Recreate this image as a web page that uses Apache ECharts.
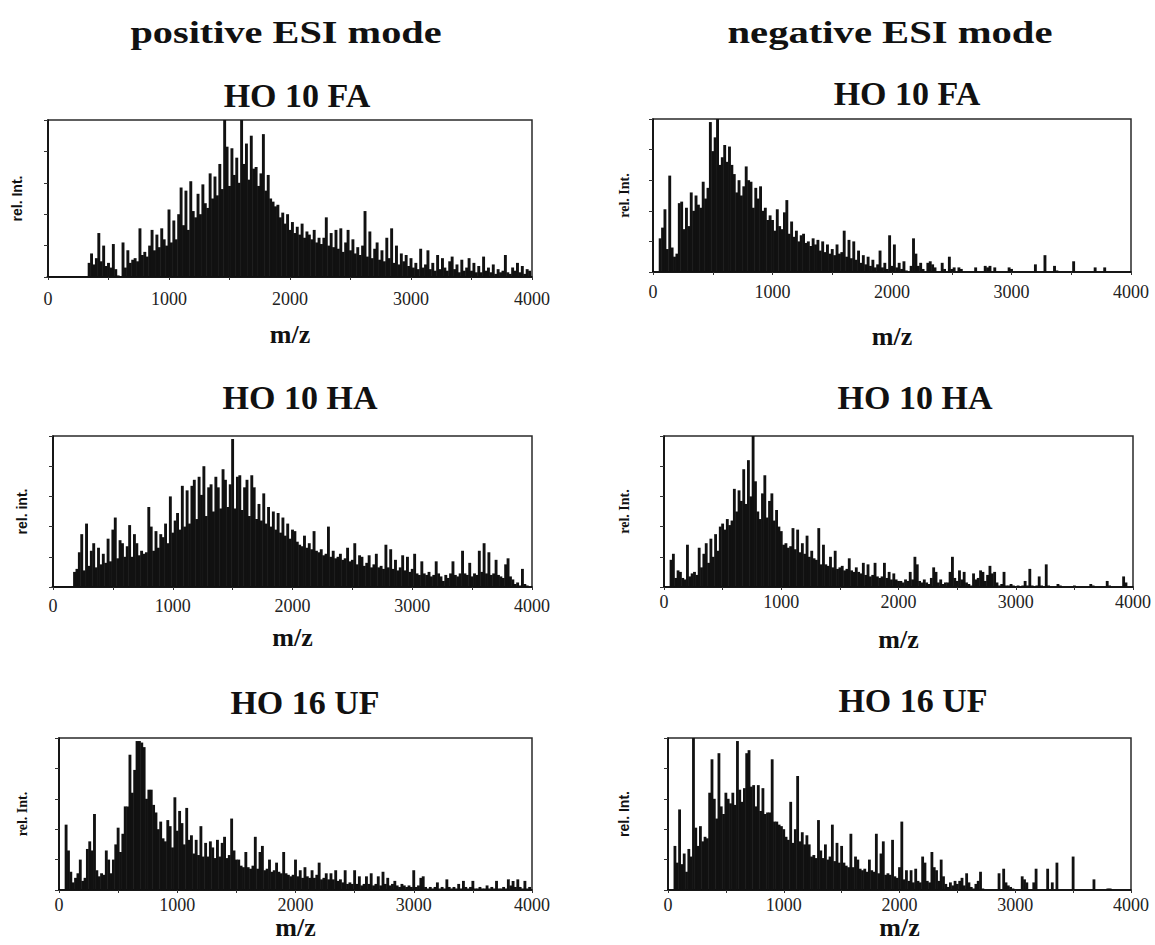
<!DOCTYPE html>
<html><head><meta charset="utf-8">
<script src="https://cdn.jsdelivr.net/npm/echarts@6/dist/echarts.min.js"></script>
<style>html,body{margin:0;padding:0;background:#fff}#c{width:1155px;height:945px}</style>
</head><body><div id="c"></div>
<script>
// m/z grid: one bin every MZ_STEP from 0 to 3980
const MZ_STEP = 20;
const xTicks = [0, 1000, 2000, 3000, 4000];
const modeTitles = ['positive ESI mode', 'negative ESI mode'];
const panelTitles = ['HO 10 FA', 'HO 10 FA', 'HO 10 HA', 'HO 10 HA', 'HO 16 UF', 'HO 16 UF'];
const yNames = ['rel. Int.', 'rel. Int.', 'rel. int.', 'rel. Int.', 'rel. Int.', 'rel. Int.'];
const xName = 'm/z';

// relative intensities (%) per 20 m/z bin
const posFA = [0.5,0.5,0.5,0.5,0.5,0.5,0.5,0.5,0.5,0.5,0.5,0.5,0.5,0.5,0.5,0.5,0.5,
 9,15,8,12,28,10,20,7,9,6,21,5,1,
 0.5,
 22,6,17,9,11,12,10,31,14,16,13,20,30,17,27,19,31,24,20,
 43,22,36,24,40,57,33,55,30,61,42,38,53,40,59,47,44,66,50,64,
 52,72,56,100,83,58,82,65,76,60,100,72,85,62,90,69,70,58,66,91,
 55,65,50,48,45,46,38,41,34,40,30,35,28,32,27,34,25,29,27,24,
 30,22,25,21,25,38,20,28,19,30,18,31,16,22,30,17,24,15,19,14,
 20,42,13,29,12,18,22,11,17,10,25,12,31,9,20,8,15,10,14,7,
 12,6,9,5,18,6,8,17,5,9,4,14,5,12,6,4,10,13,5,8,
 3,11,4,6,12,4,9,3,7,3,13,4,6,3,8,2,5,3,4,14,
 3,2,6,4,9,3,7,2,5,4];

const negFA = [0,0,0,
 22,29,41,15,63,16,10,
 12,45,46,28,42,30,
 52,40,50,44,42,59,48,55,
 98,79,88,100,70,75,83,72,
 82,70,64,52,60,50,56,
 69,60,59,42,55,48,56,40,
 42,34,37,34,27,41,30,28,39,
 47,25,33,23,27,20,24,25,19,20,17,22,18,21,
 14,20,13,18,12,15,11,18,12,13,27,10,21,9,20,8,14,6,11,5,
 10,4,8,3,5,14,3,6,2,24,4,18,3,6,2,7,1,0,4,22,
 12,4,6,2,0,6,7,5,3,0,0,6,2,0,10,2,3,0,3,2,
 0,0,0,0,0,3,0,0,0,4,3,4,0,3,0,0,0,0,0,3,
 2,0,0,0,0,0,0,0,0,0,5,0,0,0,11,0,0,0,4,1,
 0,0,0,0,0,0,7,0,0,0,0,0,0,0,0,3,0,0,0,3,
 0,0,0,0,0,0,0,0,0,0];

const posHA = [0.5,0.5,0.5,0.5,0.5,0.5,0.5,0.5,0.5,
 10,12,23,35,11,42,14,24,29,13,26,15,22,16,32,17,
 38,46,19,31,29,20,27,41,20,35,29,21,24,22,23,53,
 40,24,37,26,35,33,42,29,60,
 36,44,49,38,67,40,64,42,67,71,45,73,61,80,47,66,
 68,50,73,66,52,78,71,53,68,98,52,73,74,51,66,
 71,47,74,66,45,55,44,62,42,53,40,50,38,49,36,
 46,34,42,32,38,37,30,28,27,34,26,29,25,37,24,
 23,25,21,22,40,20,24,19,20,22,18,19,26,17,18,
 29,15,21,20,14,16,21,13,15,22,13,14,12,28,13,
 25,12,18,11,13,21,11,20,10,12,
 22,9,8,17,9,8,10,7,8,17,9,7,4,8,6,9,17,8,7,9,
 24,9,8,16,7,9,8,24,10,29,9,23,8,9,18,8,7,6,15,19,
 7,5,2,3,1,12,2,1,0];

const negHA = [0,0,0,
 18,22,6,11,10,6,5,28,7,9,10,8,
 26,13,22,29,16,32,20,35,24,40,42,
 38,45,41,44,65,50,64,57,78,55,84,60,100,
 70,50,45,62,74,46,57,62,44,51,40,37,
 28,29,26,27,39,25,38,23,29,22,34,20,24,19,18,39,
 15,28,15,14,20,13,24,12,13,14,11,12,19,11,10,13,10,9,16,
 8,15,7,8,16,7,6,7,16,6,10,5,9,5,4,
 4,3,5,4,10,5,20,15,4,3,5,3,2,6,13,10,3,5,2,3,
 3,10,20,6,4,11,5,10,3,2,1,9,5,6,11,10,4,8,14,9,
 10,3,1,2,10,1,1,2,1,0,1,0,1,4,1,12,1,0,1,7,
 1,0,15,1,0,0,0,2,1,0,0,0,0,0,1,0,0,0,0,0,
 0,2,1,0,0,0,0,0,4,1,0,0,0,0,0,7,3,0,0];

const posUF = [0,0,0,
 43,26,12,5,8,11,20,6,8,27,32,26,50,13,9,11,10,26,20,11,
 20,30,41,25,37,55,55,89,
 64,79,98,98,97,94,60,66,
 66,56,51,40,45,34,32,
 46,42,28,61,39,52,44,30,54,33,36,
 24,33,23,42,22,31,22,32,28,21,33,22,31,35,21,23,47,26,20,
 20,16,15,25,15,14,16,35,14,25,29,13,14,20,12,13,18,12,11,25,11,10,
 9,10,20,9,13,8,15,9,8,13,8,10,18,7,8,11,7,11,7,13,6,7,
 5,13,4,5,4,13,4,9,3,4,9,4,11,3,4,9,3,12,4,8,3,4,6,3,2,4,3,2,3,2,
 13,2,3,8,9,2,1,2,1,2,5,1,2,1,7,2,1,2,1,4,1,6,2,1,2,6,1,1,2,1,1,3,1,2,1,6,1,1,2,1,7,3,6,2,7,2,1,6,1,2];

const negUF = [0,0,0,
 29,18,53,17,24,12,27,22,
 100,41,29,42,32,35,34,
 64,86,60,47,90,55,50,64,
 60,57,64,56,98,66,58,67,90,92,68,
 69,55,69,52,67,50,51,51,86,45,45,43,42,40,
 35,33,58,31,40,75,32,38,30,36,
 30,22,23,21,46,26,21,30,20,22,43,19,31,18,29,18,
 16,15,37,15,22,20,14,13,14,12,20,13,12,37,11,24,32,10,11,10,33,9,8,15,45,
 7,13,6,13,5,14,6,5,22,18,6,5,25,15,13,6,20,9,4,
 2,5,3,6,4,6,8,3,11,5,2,1,4,6,12,1,0,0,0,0,0,0,11,0,14,5,3,2,1,0,
 0,0,9,7,5,0,0,5,14,0,0,0,0,14,0,5,0,18,0,0,0,0,0,0,22,0,0,0,0,0,0,0,0,7,0,0,0,0,0,1,1,0,0,0,0,0,0,0,0];

const spectra = [posFA, negFA, posHA, negHA, posUF, negUF];

// layout (pixels) for each panel
const layout = [
  {grid:{left:48, top:120, width:484, height:157}, lm:13, ng:44, yf:'"Liberation Sans"', yg:24, tx:297, ty:95},
  {grid:{left:653, top:119, width:478, height:153}, lm:11, ng:51, yf:'"Liberation Serif"', yg:22, tx:907, ty:93},
  {grid:{left:53, top:436, width:479, height:151}, lm:10, ng:37, yf:'"Liberation Sans"', yg:24, tx:300, ty:397},
  {grid:{left:664, top:436, width:469, height:151}, lm:6, ng:39, yf:'"Liberation Serif"', yg:33, tx:915, ty:397},
  {grid:{left:59, top:738, width:473, height:152}, lm:6, ng:24, yf:'"Liberation Serif"', yg:30, tx:305, ty:702},
  {grid:{left:668, top:738, width:463, height:152}, lm:6, ng:24, yf:'"Liberation Sans"', yg:37, tx:913, ty:700}
];

const INK = '#111';
const grids = [], xAxes = [], yAxes = [], series = [], graphics = [];

layout.forEach((L, i) => {
  grids.push(Object.assign({show:true, borderColor:'#2a2a2a', borderWidth:1.5, backgroundColor:'transparent'}, L.grid));
  xAxes.push({
    type:'value', gridIndex:i, min:xTicks[0], max:xTicks[xTicks.length-1],
    interval:xTicks[1]-xTicks[0],
    name:xName, nameLocation:'middle', nameGap:L.ng,
    nameTextStyle:{fontFamily:'"Liberation Serif"', fontWeight:'bold', fontSize:26, color:INK},
    axisLine:{show:true, onZero:false, lineStyle:{color:'#000', width:1.5}},
    axisTick:{show:true, inside:false, length:3, lineStyle:{color:'#333'}},
    minorTick:{show:true, splitNumber:2, length:3, lineStyle:{color:'#333'}},
    axisLabel:{fontFamily:'"Liberation Serif"', fontSize:18, color:'#222', margin:L.lm,
      formatter: v => String(v)},
    splitLine:{show:false}
  });
  yAxes.push({
    type:'value', gridIndex:i, min:0, max:100, interval:20,
    name:yNames[i], nameLocation:'middle', nameRotate:90, nameGap:L.yg,
    nameTextStyle:{fontFamily:L.yf, fontWeight:'bold', fontSize:14, color:INK},
    axisLine:{show:true, lineStyle:{color:'#000', width:1.5}},
    axisTick:{show:true, inside:false, length:4, lineStyle:{color:'#333'}},
    axisLabel:{show:false},
    splitLine:{show:false}
  });
  series.push({
    type:'bar', xAxisIndex:i, yAxisIndex:i, barWidth:L.grid.width / spectra[i].length + 0.5,
    silent:true,
    itemStyle:{color:INK},
    data: spectra[i].map((v, k) => [k * MZ_STEP, v])
  });
  graphics.push({
    type:'text', x:L.tx, y:L.ty, silent:true,
    style:{text:panelTitles[i], font:'bold 34px "Liberation Serif"', fill:INK,
      textAlign:'center', textVerticalAlign:'middle'}
  });
});

graphics.push({type:'text', x:286, y:32, scaleX:1.26, silent:true,
  style:{text:modeTitles[0], font:'bold 32px "Liberation Serif"', fill:INK, textAlign:'center', textVerticalAlign:'middle'}});
graphics.push({type:'text', x:890, y:32, scaleX:1.27, silent:true,
  style:{text:modeTitles[1], font:'bold 32px "Liberation Serif"', fill:INK, textAlign:'center', textVerticalAlign:'middle'}});

const chart = echarts.init(document.getElementById('c'), null, {renderer:'svg'});
chart.setOption({
  animation:false,
  backgroundColor:'#fff',
  grid:grids, xAxis:xAxes, yAxis:yAxes, series:series, graphic:graphics
});
</script></body></html>
